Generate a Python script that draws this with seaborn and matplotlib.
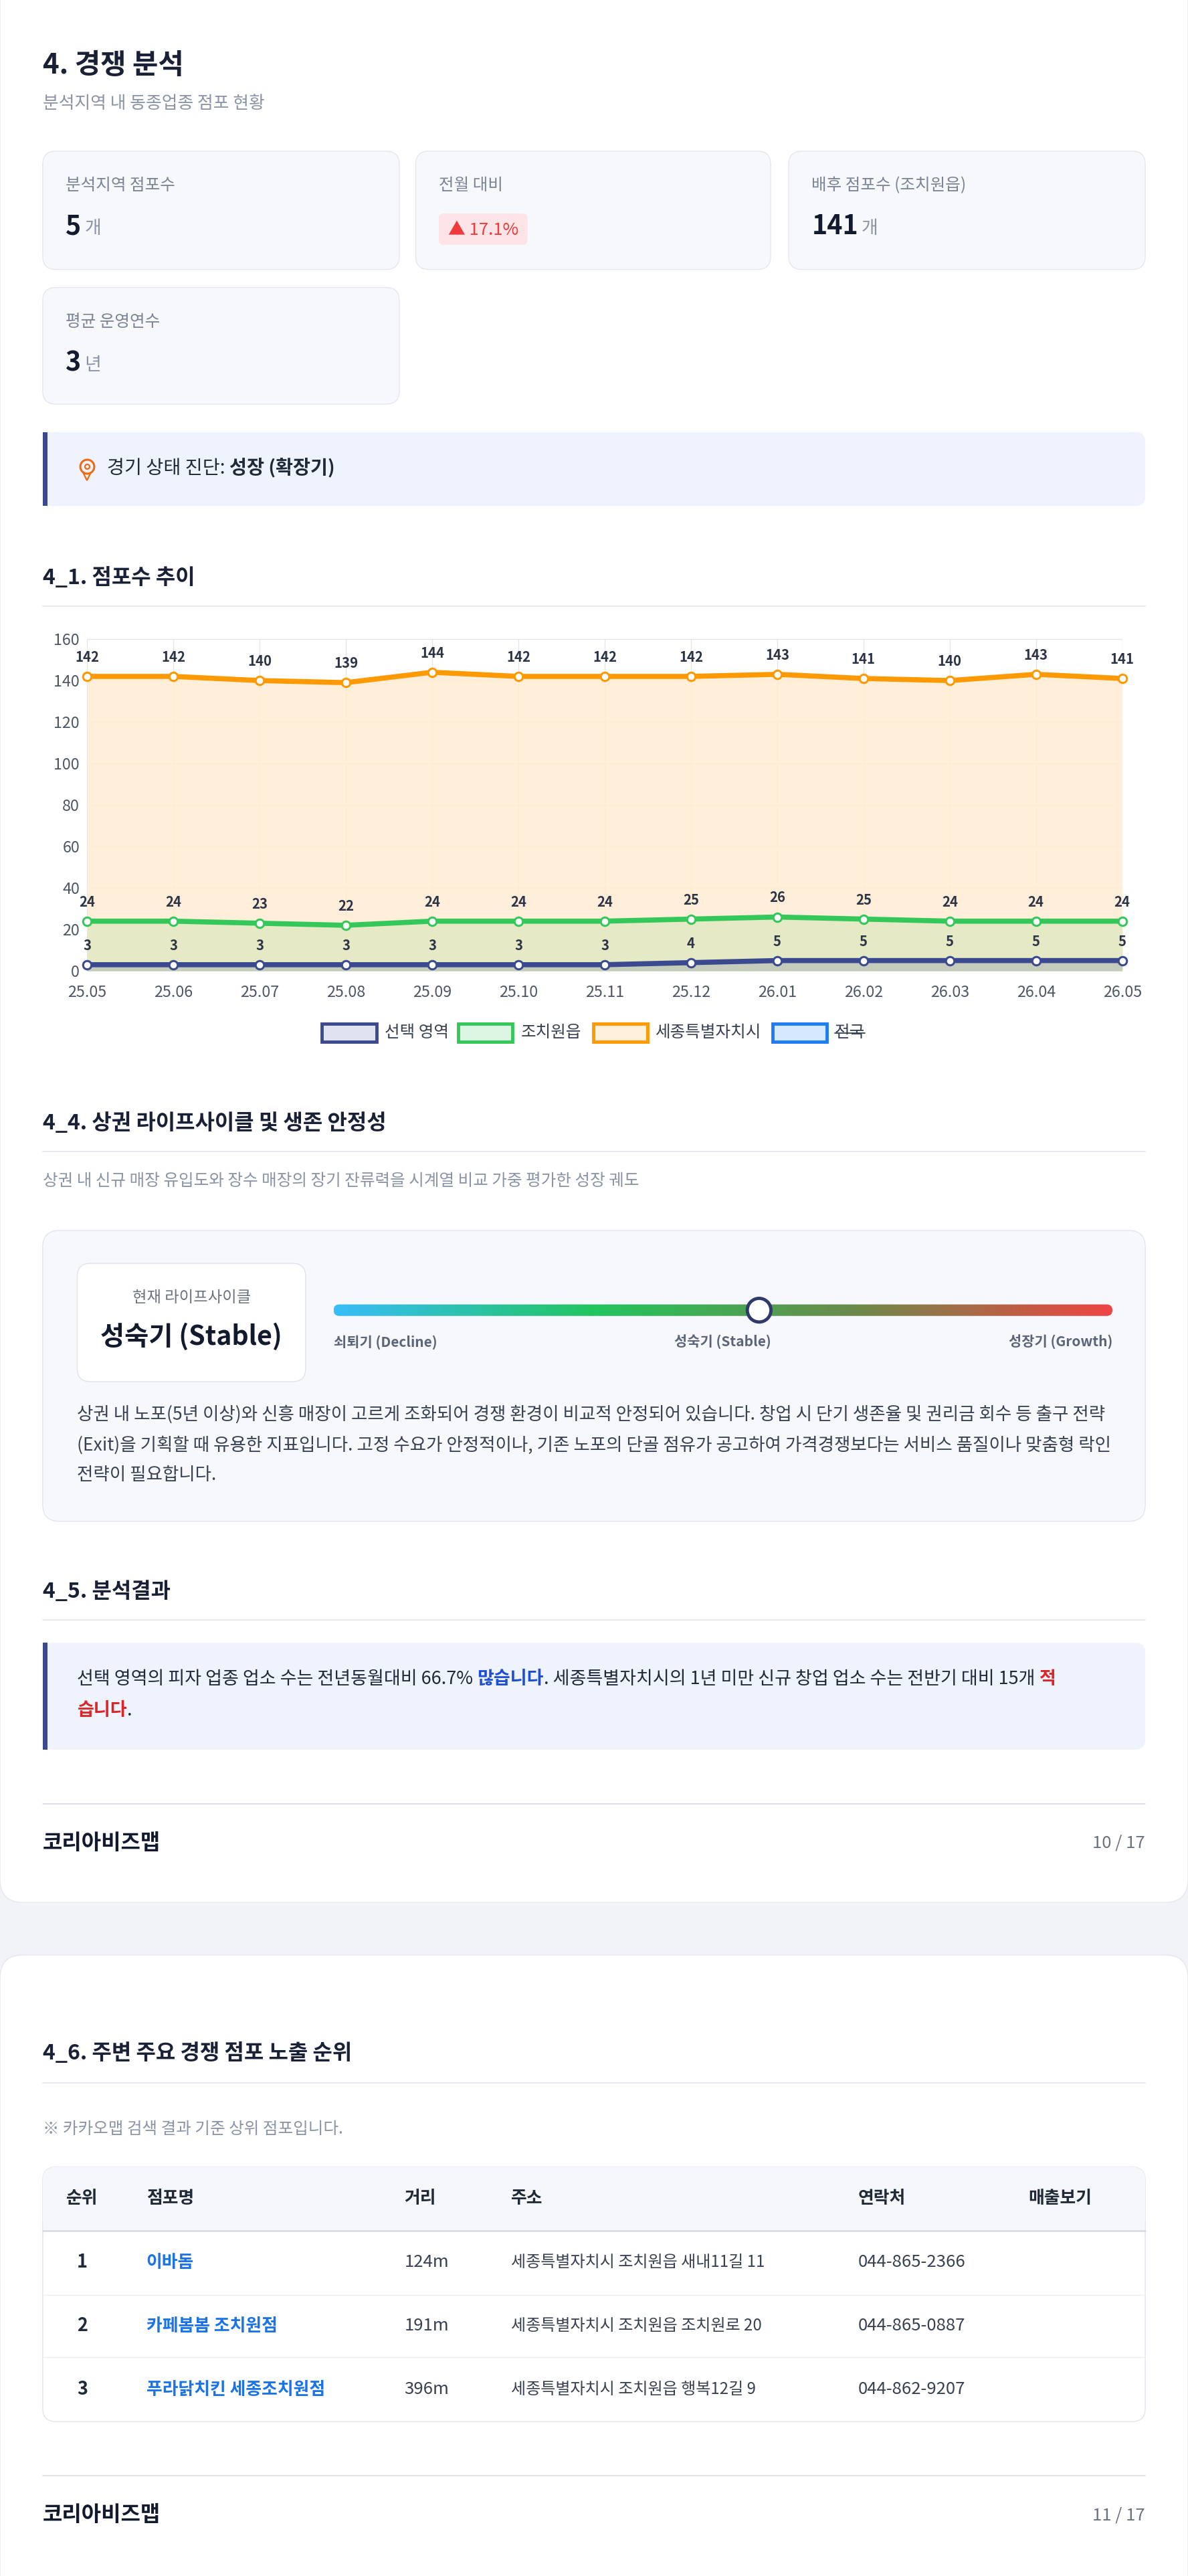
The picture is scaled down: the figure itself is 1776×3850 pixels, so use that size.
import numpy as np
import pandas as pd
import matplotlib
matplotlib.use("Agg")
import matplotlib.pyplot as plt
import seaborn as sns
from matplotlib.patches import FancyBboxPatch, Rectangle, Circle
from matplotlib.colors import LinearSegmentedColormap

sns.set_theme(style="white")
plt.rcParams['font.family'] = ['Noto Sans CJK KR', 'DejaVu Sans']

# ---------------- data ----------------
months = ["25.05", "25.06", "25.07", "25.08", "25.09", "25.10", "25.11", "25.12",
          "26.01", "26.02", "26.03", "26.04", "26.05"]
selected = [3, 3, 3, 3, 3, 3, 3, 4, 5, 5, 5, 5, 5]
jochiwon = [24, 24, 23, 22, 24, 24, 24, 25, 26, 25, 24, 24, 24]
sejong = [142, 142, 140, 139, 144, 142, 142, 142, 143, 141, 140, 143, 141]
series_names = ["선택 영역", "조치원읍", "세종특별자치시", "전국"]
yticks = [0, 20, 40, 60, 80, 100, 120, 140, 160]

table_header = ["순위", "점포명", "거리", "주소", "연락처", "매출보기"]
ranks = ["1", "2", "3"]
stores = ["이바돔", "카페봄봄 조치원점", "푸라닭치킨 세종조치원점"]
dists = ["124m", "191m", "396m"]
addrs = ["세종특별자치시 조치원읍 새내11길 11", "세종특별자치시 조치원읍 조치원로 20", "세종특별자치시 조치원읍 행복12길 9"]
phones = ["044-865-2366", "044-865-0887", "044-862-9207"]

W, H = 723, 1568
S = 1776 / W
fig = plt.figure(figsize=(17.76, 38.5), dpi=100)
fig.patch.set_facecolor("#f1f3f7")
ov = fig.add_axes([0, 0, 1, 1])
ov.set_xlim(0, W); ov.set_ylim(H, 0); ov.axis("off")
renderer = fig.canvas.get_renderer()

def fs(px):
    return px * S * 0.72

def box(x0, y0, x1, y1, fc, ec="none", r=8, lw=1.0, z=1):
    p = FancyBboxPatch((x0, y0), x1 - x0, y1 - y0, boxstyle=f"round,pad=0,rounding_size={r}",
                       fc=fc, ec=ec, lw=lw, zorder=z)
    ov.add_patch(p)
    return p

def txt(x, y, s, px, color="#1f2937", weight="normal", ha="left", z=5):
    return ov.text(x, y, s, fontsize=fs(px), color=color, fontweight=weight, ha=ha, va="center", zorder=z)

def runs(x, y, parts, px):
    for s, color, weight in parts:
        t = txt(x, y, s, px, color, weight)
        bb = t.get_window_extent(renderer)
        x += bb.width / S
    return x

def hline(y, x0=26, x1=697, color="#e3e6ec", lw=1.2):
    ov.plot([x0, x1], [y, y], color=color, lw=lw, zorder=2)

# page cards
box(0, -20, W, 1158, "white", ec="#e6e8ee", r=14, z=0)
box(0, 1190, W, H + 20, "white", ec="#e6e8ee", r=14, z=0)

# title
txt(26, 40, "4. 경쟁 분석", 17, "#1a2035", "bold")
txt(26, 63, "분석지역 내 동종업종 점포 현황", 10.5, "#8a94a6")

# stat cards
cards = [(26, 92, 243, 164, "분석지역 점포수", "5", "개"),
         (253, 92, 469, 164, "전월 대비", None, None),
         (480, 92, 697, 164, "배후 점포수 (조치원읍)", "141", "개"),
         (26, 175, 243, 246, "평균 운영연수", "3", "년")]
for x0, y0, x1, y1, lab, val, unit in cards:
    box(x0, y0, x1, y1, "#f7f8fc", ec="#e4e7ee", r=8)
    txt(x0 + 14, y0 + 21, lab, 10, "#7b8494")
    if val is not None:
        t = txt(x0 + 14, y0 + 46, val, 16, "#141a2e", "bold")
        w = t.get_window_extent(renderer).width / S
        txt(x0 + 16 + w, y0 + 47, unit, 11, "#8a94a6")
box(267, 130, 321, 149, "#fde4e6", r=3, z=2)
txt(294, 140, "▲ 17.1%", 10.5, "#ef3b3b", "normal", ha="center")

# diagnosis
box(26, 263, 697, 308, "#eef3fd", r=6)
ov.add_patch(Rectangle((26, 263), 3, 45, fc="#3b4a8f", ec="none", zorder=3))
ov.plot([53], [284], marker="o", ms=15, mfc="none", mec="#f06a12", mew=2.2, zorder=4)
ov.plot([53], [284], marker="o", ms=5, mfc="none", mec="#f06a12", mew=1.6, zorder=4)
ov.plot([53], [290.5], marker="v", ms=7, mfc="#eef3fd", mec="#f06a12", mew=1.6, zorder=3.9)
runs(65, 285, [("경기 상태 진단: ", "#1f2937", "normal"), ("성장 (확장기)", "#1f2937", "bold")], 11.5)

# section 4_1
txt(26, 352, "4_1. 점포수 추이", 13, "#1a2035", "bold")
hline(369)

# chart
x0p, x1p, y0p, y1p = 53, 683, 389, 591
ax = fig.add_axes([x0p / W, 1 - y1p / H, (x1p - x0p) / W, (y1p - y0p) / H])
ax.set_facecolor("none")
df = pd.DataFrame({"x": np.arange(len(months)), "sel": selected, "jo": jochiwon, "se": sejong})
col_sel, col_jo, col_se = "#3b4a8f", "#34c759", "#ff9900"
ax.fill_between(df["x"], df["se"], color="#ffedd5", alpha=0.9, zorder=1, lw=0)
ax.fill_between(df["x"], df["jo"], color="#b8e0a0", alpha=0.35, zorder=2, lw=0)
ax.fill_between(df["x"], df["sel"], color="#7f8aa8", alpha=0.3, zorder=3, lw=0)
for col, c in [("se", col_se), ("jo", col_jo), ("sel", col_sel)]:
    sns.lineplot(data=df, x="x", y=col, ax=ax, color=c, lw=5.5, zorder=5, marker="o",
                 markersize=9, markerfacecolor="white", markeredgecolor=c, markeredgewidth=2.2,
                 alpha=1, clip_on=False)
    for xi, v in zip(df["x"], df[col]):
        ax.annotate(str(v), (xi, v), xytext=(0, 13), textcoords="offset points", ha="center",
                    va="bottom", fontsize=fs(8.3), fontweight="bold", color="#2d3446", zorder=6,
                    annotation_clip=False)
ax.set_xlim(0, len(months) - 1)
ax.set_ylim(0, 160)
ax.set_yticks(yticks)
ax.set_xticks(df["x"])
ax.set_xticklabels(months)
ax.tick_params(axis="both", labelsize=fs(9.5), colors="#4b5563", length=0, pad=8)
ax.tick_params(axis="x", pad=fs(9.5) * 0.9)
ax.grid(True, color="#e6e6e6", lw=1)
ax.set_xlabel(""); ax.set_ylabel("")
for sp in ax.spines.values():
    sp.set_visible(False)
ax.axhline(0, color="#d8d8d8", lw=1, zorder=0)

# legend
leg = [(196, "#e0e3ef", col_sel), (279, "#dcf5e3", col_jo), (361, "#fff0dc", col_se), (470, "#d6e8ff", "#1e7bf2")]
for (lx, fc, ec), name in zip(leg, series_names):
    ov.add_patch(Rectangle((lx, 623), 33, 11, fc=fc, ec=ec, lw=3.5, zorder=4))
    t = txt(lx + 38, 628.5, name, 10, "#374151")
    if name == "전국":
        w = t.get_window_extent(renderer).width / S
        ov.plot([lx + 38, lx + 38 + w], [629, 629], color="#374151", lw=1.3, zorder=6)

# section 4_4
txt(26, 684, "4_4. 상권 라이프사이클 및 생존 안정성", 13, "#1a2035", "bold")
hline(701)
txt(26, 719, "상권 내 신규 매장 유입도와 장수 매장의 장기 잔류력을 시계열 비교 가중 평가한 성장 궤도", 10, "#8a94a6")
box(26, 749, 697, 926, "#f7f8fb", ec="#e2e5ec", r=10)
box(47, 769, 186, 841, "white", ec="#dfe3ea", r=8, z=2)
txt(116.5, 790, "현재 라이프사이클", 9.5, "#6b7280", ha="center")
txt(116.5, 814, "성숙기 (Stable)", 16, "#141a2e", "bold", ha="center")
grad = np.linspace(0, 1, 400)
cmap = LinearSegmentedColormap.from_list("lc", ["#38bdf8", "#22c55e", "#6b8a4a", "#ef4444"])
clip = box(203, 794, 677, 801, "none", r=3.5, z=2)
im = ov.imshow(grad[None, :], extent=(203, 677, 801, 794), aspect="auto", cmap=cmap, zorder=2)
im.set_clip_path(clip)
ov.set_xlim(0, W); ov.set_ylim(H, 0)
ov.add_patch(Circle((462, 797.5), 7.2, fc="white", ec="#2f3a6b", lw=3.5, zorder=4))
txt(203, 817, "쇠퇴기 (Decline)", 8.5, "#5b6478", "bold")
txt(440, 817, "성숙기 (Stable)", 8.5, "#5b6478", "bold", ha="center")
txt(677, 817, "성장기 (Growth)", 8.5, "#5b6478", "bold", ha="right")
para = ["상권 내 노포(5년 이상)와 신흥 매장이 고르게 조화되어 경쟁 환경이 비교적 안정되어 있습니다. 창업 시 단기 생존율 및 권리금 회수 등 출구 전략",
        "(Exit)을 기획할 때 유용한 지표입니다. 고정 수요가 안정적이나, 기존 노포의 단골 점유가 공고하여 가격경쟁보다는 서비스 품질이나 맞춤형 락인",
        "전략이 필요합니다."]
for i, line in enumerate(para):
    txt(47, 861 + i * 18.5, line, 10.8, "#374151")

# section 4_5
txt(26, 969, "4_5. 분석결과", 13, "#1a2035", "bold")
hline(986)
box(26, 1000, 697, 1065, "#eef3fd", r=6)
ov.add_patch(Rectangle((26, 1000), 3, 65, fc="#3b4a8f", ec="none", zorder=3))
runs(47, 1022, [("선택 영역의 피자 업종 업소 수는 전년동월대비 66.7% ", "#1f2937", "normal"),
                ("많습니다", "#1d4ed8", "bold"),
                (". 세종특별자치시의 1년 미만 신규 창업 업소 수는 전반기 대비 15개 ", "#1f2937", "normal"),
                ("적", "#dc2626", "bold")], 11)
runs(47, 1041, [("습니다", "#dc2626", "bold"), (".", "#1f2937", "normal")], 11)

hline(1098, color="#d9dde4")
txt(26, 1122, "코리아비즈맵", 13, "#141a2e", "bold")
txt(697, 1122, "10 / 17", 10.5, "#6b7280", ha="right")

# page 2
txt(26, 1250, "4_6. 주변 주요 경쟁 점포 노출 순위", 13, "#1a2035", "bold")
hline(1268)
txt(26, 1296, "※ 카카오맵 검색 결과 기준 상위 점포입니다.", 10, "#8a94a6")
box(26, 1319, 697, 1474, "white", ec="#e2e5ec", r=8)
hdr = FancyBboxPatch((26, 1319), 671, 39, boxstyle="round,pad=0,rounding_size=8", fc="#f6f7fa", ec="none", zorder=1.5)
ov.add_patch(hdr)
ov.add_patch(Rectangle((26.5, 1340), 670, 18, fc="#f6f7fa", ec="none", zorder=1.6))
ov.plot([26, 697], [1358, 1358], color="#d5d9e1", lw=1.8, zorder=3)
for yy in [1397, 1435]:
    ov.plot([26, 697], [yy, yy], color="#eceef2", lw=1, zorder=3)
colx = [50, 89, 246, 311, 522, 626]
for i, h in enumerate(table_header):
    txt(colx[i], 1338, h, 10.5, "#1f2937", "bold", ha="center" if i == 0 else "left")
for r in range(3):
    yy = 1377 + r * 38.7
    txt(50, yy, ranks[r], 11, "#1f2937", "bold", ha="center")
    txt(89, yy, stores[r], 10.5, "#1a73e8", "bold")
    txt(246, yy, dists[r], 10.5, "#374151")
    txt(311, yy, addrs[r], 9.8, "#374151")
    txt(522, yy, phones[r], 10.5, "#374151")

hline(1507, color="#d9dde4")
txt(26, 1531, "코리아비즈맵", 13, "#141a2e", "bold")
txt(697, 1531, "11 / 17", 10.5, "#6b7280", ha="right")

fig.savefig("out.png", dpi=100, facecolor=fig.get_facecolor())
